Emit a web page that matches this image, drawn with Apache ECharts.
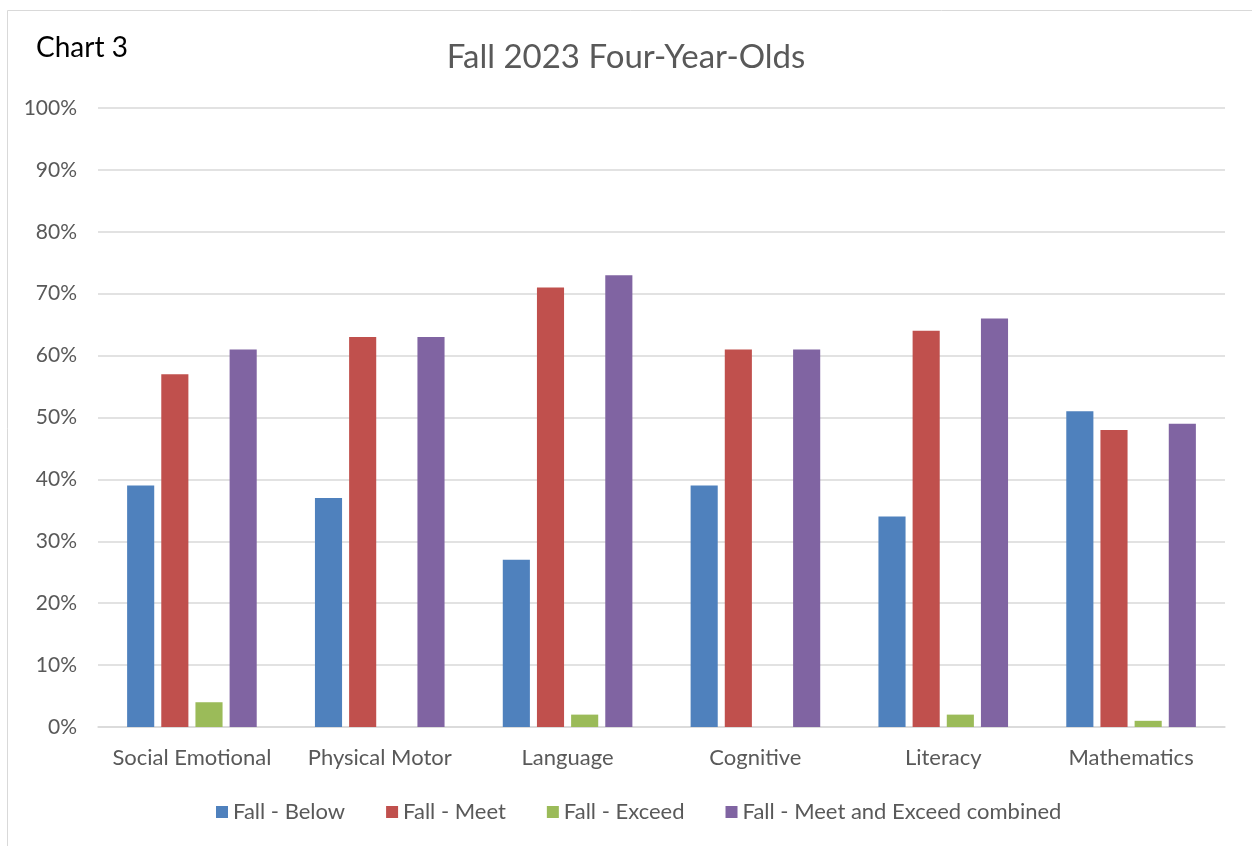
<!DOCTYPE html>
<html><head><meta charset="utf-8">
<script src="https://cdn.jsdelivr.net/npm/echarts@6/dist/echarts.min.js"></script>
<style>html,body{margin:0;padding:0;background:#fff}#c{width:1252px;height:846px}</style>
</head><body><div id="c"></div>
<script>
const categories = ['Social Emotional','Physical Motor','Language','Cognitive','Literacy','Mathematics'];
const fallBelow = [39,37,27,39,34,51];
const fallMeet = [57,63,71,61,64,48];
const fallExceed = [4,0,2,0,2,1];
const fallCombined = [61,63,73,61,66,49];
const seriesNames = ['Fall - Below','Fall - Meet','Fall - Exceed','Fall - Meet and Exceed combined'];
const colors = ['#4f81bd','#c0504d','#9bbb59','#8064a2'];
const FONT = 'Lato, "Open Sans", sans-serif';
const chart = echarts.init(document.getElementById('c'));
const data = [fallBelow, fallMeet, fallExceed, fallCombined];
chart.setOption({
  animation:false,
  color: colors,
  graphic:[{type:'rect',shape:{x:7.5,y:10.5,width:1260,height:860},style:{fill:'none',stroke:'#d9d9d9',lineWidth:1}},
           {type:'text',left:36,top:34,style:{text:'Chart 3',font:'28px '+FONT,fill:'#000'}}],
  title:{text:'Fall 2023 Four-Year-Olds',left:'center',top:36,textStyle:{fontFamily:FONT,fontSize:33,fontWeight:'normal',color:'#595959'}},
  grid:{left:98,right:27,top:108,bottom:119},
  legend:{bottom:18,left:211,itemWidth:12,itemHeight:12,itemGap:41,icon:'rect',textStyle:{fontFamily:FONT,fontSize:22,color:'#595959'},data:seriesNames},
  xAxis:{type:'category',data:categories,axisLine:{lineStyle:{color:'#d9d9d9',width:1.5}},axisTick:{show:false},
    axisLabel:{interval:0,fontFamily:FONT,fontSize:22,color:'#595959',margin:20}},
  yAxis:{type:'value',min:0,max:100,interval:10,axisLabel:{formatter:'{value}%',fontFamily:FONT,fontSize:21,color:'#595959',margin:21},
    splitLine:{lineStyle:{color:'#d9d9d9',width:1.5}},axisLine:{show:false},axisTick:{show:false}},
  series: seriesNames.map((n,i)=>({name:n,type:'bar',data:data[i],barGap:'26%',barCategoryGap:'31%'}))
});
</script></body></html>
